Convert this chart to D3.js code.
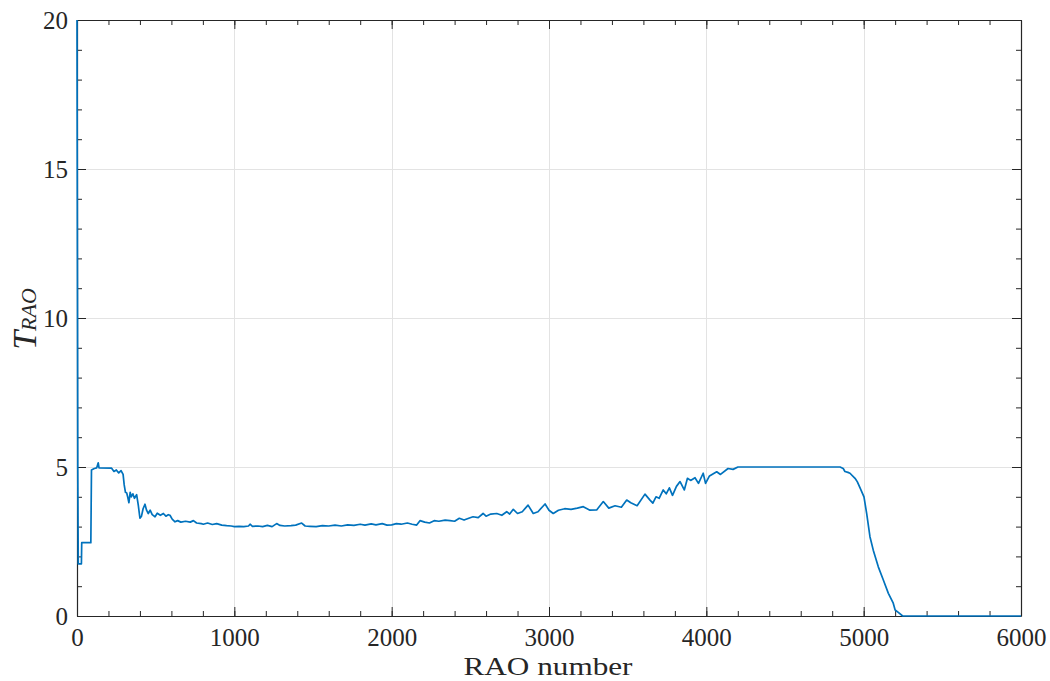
<!DOCTYPE html>
<html>
<head>
<meta charset="utf-8">
<script src="https://cdn.jsdelivr.net/npm/d3@7"></script>
<style>
  html, body { margin: 0; padding: 0; background: #ffffff; }
  svg { display: block; }
</style>
</head>
<body>
<svg id="chart" width="1050" height="681"></svg>
<script>
// ---- data ----
const raoNumber = [
  0, 5, 8, 28, 30, 88, 92, 110, 125, 135, 140, 220, 235, 250, 265, 280, 293, 300, 308, 316,
  322, 330, 338, 345, 355, 365, 379, 390, 400, 410, 420, 432, 442, 453, 465, 478, 496, 510, 530, 549,
  565, 580, 591, 605, 623, 640, 660, 690, 720, 740, 760, 790, 803, 830, 860, 888, 920, 951, 980, 1000,
  1030, 1060, 1090, 1100, 1115, 1150, 1180, 1210, 1240, 1269, 1290, 1320, 1360, 1390, 1428, 1450, 1480, 1520, 1560, 1600,
  1640, 1680, 1720, 1760, 1800, 1830, 1870, 1900, 1940, 1970, 2000, 2030, 2060, 2100, 2130, 2159, 2180, 2210, 2240, 2270,
  2300, 2340, 2371, 2400, 2430, 2460, 2490, 2517, 2550, 2581, 2600, 2630, 2668, 2700, 2731, 2750, 2773, 2800, 2830, 2867,
  2900, 2930, 2975, 3000, 3027, 3060, 3100, 3140, 3180, 3218, 3260, 3303, 3345, 3380, 3420, 3460, 3494, 3520, 3560, 3610,
  3642, 3660, 3680, 3700, 3726, 3745, 3765, 3785, 3810, 3833, 3860, 3880, 3900, 3928, 3950, 3980, 3995, 4020, 4066, 4090,
  4138, 4170, 4201, 4850, 4870, 4881, 4900, 4913, 4945, 4960, 4977, 5002, 5019, 5040, 5061, 5093, 5125, 5157, 5188, 5200,
  5220, 5248, 6000
];
const tRao = [
  20, 4.8, 1.75, 1.75, 2.46, 2.46, 4.9, 4.95, 4.97, 5.14, 4.97, 4.96, 4.85, 4.9, 4.8, 4.88, 4.75, 4.4, 4.15, 4.13,
  4.0, 3.8, 4.15, 4.0, 4.1, 3.95, 4.07, 3.7, 3.28, 3.35, 3.6, 3.75, 3.55, 3.44, 3.55, 3.4, 3.33, 3.45, 3.38, 3.44,
  3.35, 3.4, 3.38, 3.25, 3.16, 3.2, 3.15, 3.18, 3.15, 3.2, 3.12, 3.1, 3.08, 3.12, 3.07, 3.1, 3.05, 3.03, 3.02, 3.0,
  3.01, 3.0, 3.02, 3.08, 3.01, 3.02, 3.0, 3.04, 3.0, 3.1, 3.04, 3.02, 3.03, 3.05, 3.12, 3.02, 3.01, 3.0, 3.03, 3.02,
  3.05, 3.02, 3.06, 3.04, 3.08, 3.05, 3.09, 3.06, 3.1, 3.05, 3.06, 3.1, 3.08, 3.12, 3.08, 3.05, 3.2, 3.15, 3.12, 3.2,
  3.18, 3.22, 3.2, 3.18, 3.28, 3.22, 3.28, 3.33, 3.3, 3.44, 3.35, 3.42, 3.44, 3.38, 3.5, 3.42, 3.58, 3.44, 3.5, 3.72,
  3.44, 3.5, 3.76, 3.55, 3.44, 3.55, 3.6, 3.58, 3.62, 3.67, 3.55, 3.56, 3.84, 3.62, 3.7, 3.65, 3.89, 3.8, 3.7, 4.09,
  3.89, 3.79, 4.0, 3.95, 4.23, 4.1, 4.3, 4.05, 4.35, 4.51, 4.23, 4.62, 4.55, 4.64, 4.45, 4.79, 4.45, 4.7, 4.84, 4.75,
  4.95, 4.92, 5.0, 5.0, 4.95, 4.85, 4.82, 4.79, 4.62, 4.5, 4.3, 4.0, 3.44, 2.66, 2.21, 1.65, 1.21, 0.76, 0.43, 0.2,
  0.12, 0, 0
];
const xTicks = [0, 1000, 2000, 3000, 4000, 5000, 6000];
const yTicks = [0, 5, 10, 15, 20];
const xMinorTicks = d3.range(0, 6001, 200);
const yMinorTicks = d3.range(0, 21, 1);
const xLabel = "RAO number";

// ---- layout ----
const svg = d3.select("#chart");
const pL = 77, pR = 1021, pT = 20, pB = 616;
const x = d3.scaleLinear().domain([0, 6000]).range([pL, pR]);
const y = d3.scaleLinear().domain([0, 20]).range([pB, pT]);
const axisColor = "#262626";
const FONT = '"Liberation Serif"';

// grid
const grid = svg.append("g");
grid.selectAll("line.gx").data(xTicks.slice(1, -1)).join("line")
  .attr("x1", d => Math.round(x(d)) + 0.5).attr("x2", d => Math.round(x(d)) + 0.5)
  .attr("y1", pT).attr("y2", pB)
  .attr("stroke", "#e3e3e3").attr("stroke-width", 1);
grid.selectAll("line.gy").data(yTicks.slice(1, -1)).join("line")
  .attr("y1", d => Math.round(y(d)) + 0.5).attr("y2", d => Math.round(y(d)) + 0.5)
  .attr("x1", pL).attr("x2", pR)
  .attr("stroke", "#e3e3e3").attr("stroke-width", 1);

function styleAxis(g) {
  g.select(".domain").attr("stroke", axisColor).attr("stroke-width", 1.2);
  g.selectAll(".tick line").attr("stroke", axisColor).attr("stroke-width", 1);
}
const majorLen = 9, minorLen = 5;
const fmt = d3.format("d");
// minor ticks
svg.append("g").attr("transform", `translate(0,${pB})`)
  .call(d3.axisTop(x).tickValues(xMinorTicks).tickSize(minorLen).tickFormat(""))
  .call(styleAxis).call(g => g.select(".domain").remove());
svg.append("g").attr("transform", `translate(0,${pT})`)
  .call(d3.axisBottom(x).tickValues(xMinorTicks).tickSize(minorLen).tickFormat(""))
  .call(styleAxis).call(g => g.select(".domain").remove());
svg.append("g").attr("transform", `translate(${pL},0)`)
  .call(d3.axisRight(y).tickValues(yMinorTicks).tickSize(minorLen).tickFormat(""))
  .call(styleAxis).call(g => g.select(".domain").remove());
svg.append("g").attr("transform", `translate(${pR},0)`)
  .call(d3.axisLeft(y).tickValues(yMinorTicks).tickSize(minorLen).tickFormat(""))
  .call(styleAxis).call(g => g.select(".domain").remove());

// major ticks with labels
const gx = svg.append("g").attr("transform", `translate(0,${pB})`)
  .call(d3.axisBottom(x).tickValues(xTicks).tickFormat(fmt).tickSizeInner(-majorLen).tickSizeOuter(0).tickPadding(12))
  .call(styleAxis);
gx.selectAll(".tick text").style("font-family", FONT).style("font-size", "25px").attr("fill", axisColor);
svg.append("g").attr("transform", `translate(0,${pT})`)
  .call(d3.axisTop(x).tickValues(xTicks).tickSizeInner(-majorLen).tickSizeOuter(0).tickFormat(""))
  .call(styleAxis);
const gy = svg.append("g").attr("transform", `translate(${pL},0)`)
  .call(d3.axisLeft(y).tickValues(yTicks).tickFormat(fmt).tickSizeInner(-majorLen).tickSizeOuter(0).tickPadding(9))
  .call(styleAxis);
gy.selectAll(".tick text").style("font-family", FONT).style("font-size", "25px").attr("fill", axisColor);
svg.append("g").attr("transform", `translate(${pR},0)`)
  .call(d3.axisRight(y).tickValues(yTicks).tickSizeInner(-majorLen).tickSizeOuter(0).tickFormat(""))
  .call(styleAxis);

// data line
svg.append("defs").append("clipPath").attr("id", "clip")
  .append("rect").attr("x", pL - 2).attr("y", pT - 2)
  .attr("width", pR - pL + 4).attr("height", pB - pT + 4);
const pts = raoNumber.map((d, i) => [d, tRao[i]]);
svg.append("path")
  .datum(pts)
  .attr("clip-path", "url(#clip)")
  .attr("fill", "none")
  .attr("stroke", "#0072BD")
  .attr("stroke-width", 1.7)
  .attr("stroke-linejoin", "round")
  .attr("d", d3.line().x(d => x(d[0])).y(d => y(d[1])));

// axis labels
svg.append("text")
  .attr("x", (pL + pR) / 2 - 1).attr("y", 675)
  .attr("text-anchor", "middle")
  .style("font-family", FONT).style("font-size", "26px").attr("fill", axisColor)
  .attr("textLength", 169).attr("lengthAdjust", "spacingAndGlyphs")
  .text(xLabel);

const yl = svg.append("text")
  .attr("transform", `translate(36,319) rotate(-90)`)
  .attr("text-anchor", "middle")
  .style("font-family", FONT)
  .attr("fill", axisColor);
yl.append("tspan").style("font-style", "italic").style("font-size", "34px").text("T");
yl.append("tspan").style("font-style", "italic").style("font-size", "22px").attr("dy", 0).text("RAO");
</script>
</body>
</html>
